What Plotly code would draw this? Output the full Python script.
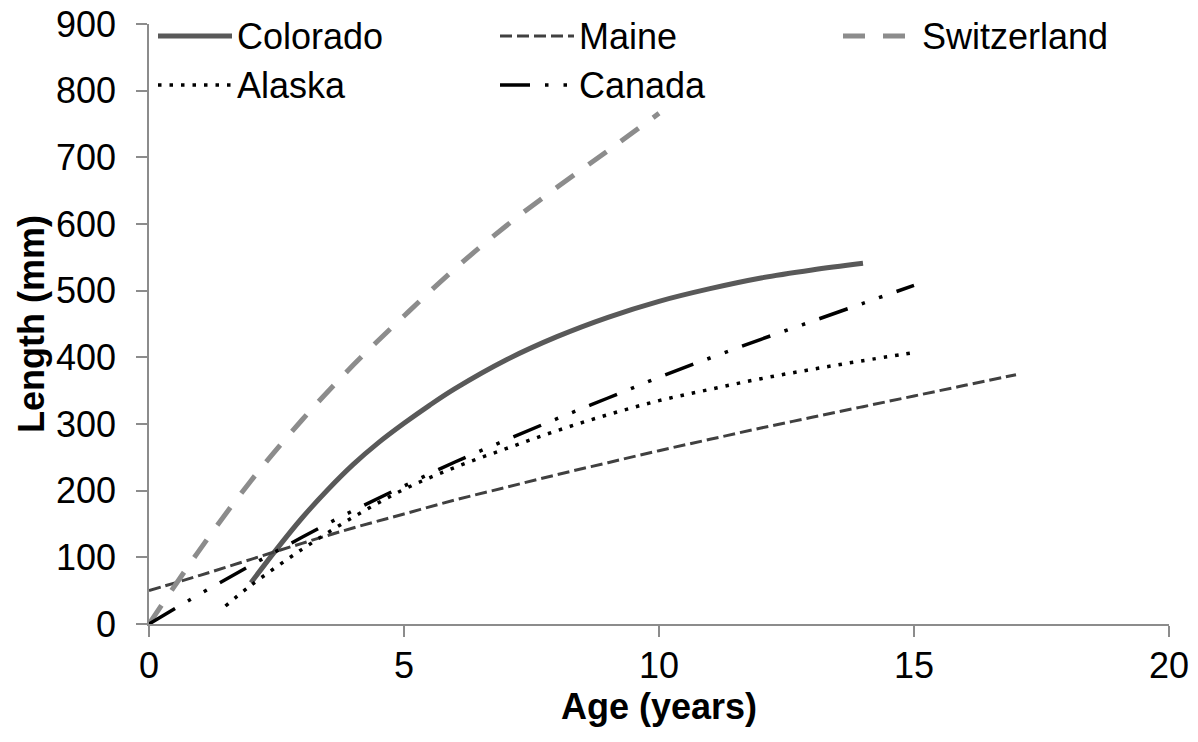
import plotly.graph_objects as go

# ---- data ----
colorado_age = [2, 2.5, 3, 3.5, 4, 4.5, 5, 5.5, 6, 7, 8, 9, 10, 11, 12, 13, 14]
colorado_len = [62, 112, 159, 201, 239, 272, 301, 328, 353, 396, 431, 460, 484, 503, 519, 531, 541]

maine_age = [0, 1, 2, 3, 4, 5, 6, 7, 8, 9, 10, 11, 12, 13, 14, 15, 16, 17]
maine_len = [50, 73, 97, 121, 144, 165, 186, 205, 224, 242, 260, 277, 294, 310, 326, 342, 358, 374]

switzerland_age = [0, 1, 2, 3, 4, 5, 6, 7, 8, 9, 10]
switzerland_len = [0, 112, 215, 306, 388, 462, 533, 597, 655, 710, 766]

alaska_age = [1.5, 2, 3, 4, 5, 6, 7, 8, 9, 10, 11, 12, 13, 14, 15]
alaska_len = [27, 58, 112, 160, 202, 235, 263, 290, 314, 335, 352, 368, 382, 395, 407]

canada_age = [0, 1, 2, 3, 4, 5, 6, 7, 8, 9, 10, 11, 12, 13, 14, 15]
canada_len = [0, 45, 88, 130, 170, 207, 243, 276, 308, 339, 370, 399, 427, 454, 481, 508]

x_ticks = [0, 5, 10, 15, 20]
y_ticks = [0, 100, 200, 300, 400, 500, 600, 700, 800, 900]

FONT = "Liberation Sans, Arial, sans-serif"
FS = 36

series = [
    ("Colorado", colorado_age, colorado_len, "#595959", 5, "solid"),
    ("Maine", maine_age, maine_len, "#404040", 3, "12px,5px"),
    ("Switzerland", switzerland_age, switzerland_len, "#8c8c8c", 5, "22px,18px"),
    ("Alaska", alaska_age, alaska_len, "#000000", 3.5, "3.5px,8px"),
    ("Canada", canada_age, canada_len, "#000000", 3.5, "30px,15px,3.5px,15px,3.5px,15px"),
]

fig = go.Figure()
for name, xs, ys, col, w, dash in series:
    fig.add_trace(go.Scatter(
        x=xs, y=ys, name=name, mode="lines",
        line=dict(color=col, width=w, dash=dash, shape="spline", smoothing=1.0),
        showlegend=False,
    ))

# ---- plot geometry (pixels) ----
W, H = 1198, 742
L, R, T, B = 149, 29, 24, 118
PW, PH = W - L - R, H - T - B


def px(xp):
    return (xp - L) / PW


def py(yp):
    return (H - B - yp) / PH


# ---- legend drawn as line samples + labels (2 rows x 3 columns) ----
legend_pos = {
    "Colorado": (158, 36),
    "Maine": (500, 36),
    "Switzerland": (843, 36),
    "Alaska": (158, 85),
    "Canada": (500, 85),
}
shapes = []
annotations = []
for name, xs, ys, col, w, dash in series:
    x0, yc = legend_pos[name]
    shapes.append(dict(
        type="line", xref="paper", yref="paper",
        x0=px(x0), x1=px(x0 + 74), y0=py(yc), y1=py(yc),
        line=dict(color=col, width=w, dash=dash),
    ))
    annotations.append(dict(
        text=name, xref="paper", yref="paper",
        x=px(x0 + 77), y=py(yc), xanchor="left", yanchor="middle",
        showarrow=False, font=dict(family=FONT, size=FS, color="#000000"),
    ))

fig.update_layout(
    width=W, height=H,
    margin=dict(l=L, r=R, t=T, b=B, pad=0),
    paper_bgcolor="white", plot_bgcolor="white",
    font=dict(family=FONT, size=FS, color="#000000"),
    showlegend=False,
    shapes=shapes,
    annotations=annotations,
    xaxis=dict(
        range=[0, 20], tickvals=x_ticks, ticktext=[str(v) for v in x_ticks],
        showgrid=False, zeroline=False,
        showline=True, linecolor="#8c8c8c", linewidth=1.5,
        ticks="outside", ticklen=11, tickcolor="#8c8c8c", tickwidth=1.5,
        tickfont=dict(family=FONT, size=FS),
        ticklabelstandoff=-2,
        title=dict(text="<b>Age (years)</b>", font=dict(family=FONT, size=FS), standoff=4),
        automargin=False,
    ),
    yaxis=dict(
        range=[0, 900], tickvals=y_ticks, ticktext=[str(v) for v in y_ticks],
        showgrid=False, zeroline=False,
        showline=True, linecolor="#8c8c8c", linewidth=1.5,
        ticks="outside", ticklen=11, tickcolor="#8c8c8c", tickwidth=1.5,
        tickfont=dict(family=FONT, size=FS),
        ticklabelstandoff=13,
        title=dict(text="<b>Length (mm)</b>", font=dict(family=FONT, size=FS), standoff=0),
        automargin=False,
    ),
)

fig.write_html("out.html")
